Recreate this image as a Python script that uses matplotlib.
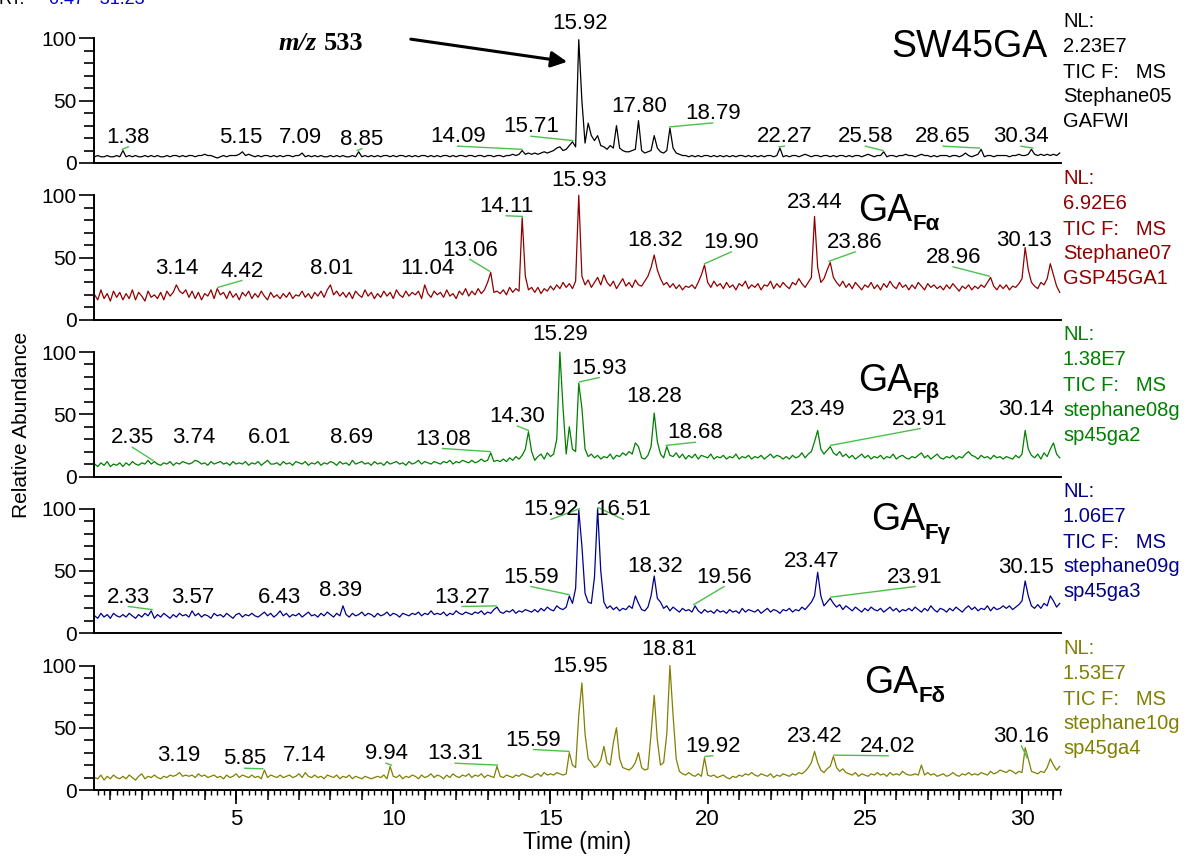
import matplotlib
matplotlib.use("Agg")
import matplotlib.pyplot as plt
from matplotlib.ticker import MultipleLocator
import numpy as np

plt.rcParams['font.family'] = ['Liberation Sans', 'DejaVu Sans']

W, H = 1190, 861

# time grid of the sampled traces (min)
rt_grid = np.linspace(0.5, 31.2, 308)

# relative abundance, one row per minute
sw45ga = [
    5, 6, 5, 5, 6, 5, 5, 6, 5, 10,
    5, 6, 5, 6, 5, 5, 6, 5, 6, 5,
    6, 5, 5, 6, 5, 6, 6, 5, 6, 5,
    6, 6, 5, 6, 6, 7, 6, 6, 5, 4,
    5, 6, 5, 6, 6, 6, 7, 9, 6, 7,
    6, 5, 6, 5, 6, 6, 5, 6, 5, 6,
    5, 6, 6, 5, 6, 6, 8, 5, 6, 5,
    6, 5, 6, 5, 5, 6, 5, 6, 5, 6,
    5, 5, 6, 5, 9, 5, 6, 5, 6, 5,
    6, 5, 6, 6, 5, 6, 5, 6, 6, 5,
    6, 5, 6, 5, 6, 6, 5, 6, 5, 6,
    5, 6, 6, 5, 6, 5, 6, 6, 5, 6,
    6, 5, 6, 6, 5, 6, 6, 5, 6, 6,
    5, 6, 6, 7, 6, 7, 10, 7, 8, 7,
    8, 7, 8, 9, 8, 9, 10, 12, 13, 10,
    11, 14, 17, 13, 99, 50, 16, 32, 22, 18,
    22, 14, 13, 11, 14, 12, 30, 12, 10, 9,
    9, 10, 11, 34, 10, 8, 9, 10, 22, 12,
    9, 8, 10, 28, 12, 8, 7, 6, 6, 5,
    6, 5, 6, 5, 6, 6, 5, 6, 5, 6,
    5, 6, 5, 6, 5, 6, 6, 5, 6, 5,
    6, 5, 6, 5, 6, 6, 5, 6, 12, 5,
    6, 5, 6, 6, 5, 6, 7, 6, 5, 6,
    6, 5, 6, 6, 5, 6, 5, 6, 6, 5,
    6, 5, 6, 6, 5, 6, 7, 6, 5, 6,
    6, 9, 5, 6, 6, 5, 6, 6, 7, 6,
    6, 5, 6, 7, 6, 6, 5, 6, 5, 6,
    6, 6, 5, 6, 6, 5, 6, 8, 6, 5,
    6, 7, 11, 5, 6, 6, 5, 6, 6, 6,
    6, 5, 6, 6, 7, 6, 6, 7, 11, 7,
    6, 7, 6, 7, 6, 7, 6, 8]

ga_f_alpha = [
    20, 16, 24, 17, 21, 15, 23, 18, 22, 16,
    21, 17, 24, 16, 22, 19, 15, 23, 18, 20,
    17, 22, 16, 23, 19, 22, 28, 23, 21, 24,
    18, 23, 17, 22, 16, 21, 19, 24, 17, 25,
    20, 22, 17, 23, 18, 21, 16, 22, 19, 23,
    17, 21, 18, 23, 19, 16, 22, 18, 20, 17,
    21, 18, 22, 17, 20, 19, 23, 18, 21, 17,
    22, 19, 23, 18, 24, 28, 20, 23, 19, 22,
    18, 22, 17, 23, 20, 18, 24, 19, 22, 17,
    21, 18, 23, 19, 22, 17, 24, 20, 18, 23,
    19, 22, 20, 23, 17, 28, 21, 18, 23, 20,
    22, 18, 24, 19, 21, 17, 23, 20, 25, 19,
    23, 20, 25, 21, 24, 30, 38, 22, 23, 21,
    24, 20, 26, 22, 25, 23, 82, 35, 24, 26,
    22, 26, 21, 25, 23, 27, 24, 28, 25, 30,
    26, 29, 25, 31, 100, 35, 28, 32, 26, 30,
    34, 28, 36, 30, 27, 31, 25, 29, 33, 27,
    30, 26, 32, 28, 27, 31, 35, 42, 52, 40,
    33, 28, 30, 26, 29, 25, 28, 24, 27, 26,
    28, 25, 30, 36, 44, 30, 26, 31, 27, 29,
    25, 30, 26, 28, 24, 29, 27, 31, 25, 28,
    26, 29, 24, 28, 27, 31, 25, 29, 26, 30,
    27, 25, 30, 28, 33, 29, 26, 30, 34, 83,
    42, 30, 33, 40, 46, 34, 30, 27, 31, 26,
    29, 25, 30, 27, 24, 28, 26, 30, 25, 28,
    24, 29, 26, 31, 27, 25, 30, 26, 28, 24,
    28, 25, 30, 27, 24, 29, 26, 28, 25, 27,
    24, 28, 25, 29, 26, 23, 27, 25, 28, 24,
    27, 25, 28, 26, 30, 34, 27, 24, 28, 25,
    28, 24, 27, 26, 29, 33, 58, 40, 30, 27,
    25, 30, 28, 33, 45, 36, 27, 22]

ga_f_beta = [
    10, 8, 11, 9, 12, 8, 10, 9, 11, 8,
    11, 9, 12, 10, 9, 11, 10, 13, 10, 12,
    10, 9, 11, 10, 12, 9, 11, 10, 12, 11,
    10, 11, 13, 12, 10, 11, 9, 12, 10, 11,
    12, 10, 11, 9, 12, 10, 11, 10, 12, 9,
    11, 10, 12, 9, 11, 13, 10, 10, 11, 9,
    12, 10, 11, 9, 12, 11, 10, 12, 9, 11,
    10, 12, 9, 11, 10, 12, 11, 9, 12, 10,
    11, 9, 13, 10, 11, 12, 10, 11, 9, 12,
    10, 11, 9, 12, 10, 11, 12, 10, 11, 9,
    12, 10, 11, 13, 10, 12, 11, 10, 12, 11,
    10, 12, 11, 13, 10, 12, 11, 13, 12, 11,
    13, 11, 12, 14, 12, 13, 19, 12, 13, 12,
    14, 12, 15, 13, 16, 14, 17, 22, 36, 20,
    13, 16, 18, 14, 19, 16, 18, 30, 100, 55,
    18, 40, 22, 20, 75, 55, 22, 16, 18, 15,
    17, 14, 16, 15, 18, 14, 17, 16, 19, 17,
    20, 18, 27, 24, 15, 14, 17, 24, 51, 28,
    18, 15, 24, 17, 16, 19, 15, 18, 14, 17,
    15, 18, 14, 17, 16, 15, 18, 14, 16, 15,
    17, 14, 16, 15, 18, 14, 16, 15, 17, 14,
    16, 15, 17, 14, 16, 18, 15, 17, 16, 14,
    16, 14, 17, 15, 16, 19, 15, 18, 20, 28,
    37, 22, 18, 21, 24, 19, 17, 20, 16, 18,
    15, 17, 14, 16, 18, 15, 17, 14, 16, 15,
    17, 14, 16, 15, 18, 14, 16, 17, 15, 14,
    16, 15, 17, 19, 15, 17, 14, 16, 18, 15,
    14, 16, 15, 17, 14, 16, 15, 18, 20, 17,
    16, 14, 17, 15, 16, 14, 17, 15, 16, 14,
    16, 15, 14, 17, 15, 18, 37, 22, 17, 15,
    18, 14, 19, 16, 22, 27, 18, 15]

ga_f_gamma = [
    14, 12, 16, 13, 15, 12, 16, 14, 13, 15,
    13, 16, 14, 12, 15, 13, 16, 14, 18, 12,
    15, 13, 16, 14, 12, 15, 13, 16, 14, 15,
    13, 18, 14, 16, 13, 15, 14, 12, 16, 14,
    15, 13, 16, 14, 12, 15, 16, 13, 15, 14,
    16, 14, 13, 15, 17, 14, 16, 13, 15, 18,
    14, 16, 13, 15, 14, 16, 13, 15, 17, 14,
    15, 13, 16, 14, 17, 15, 13, 16, 14, 22,
    15, 13, 16, 14, 15, 17, 14, 16, 15, 13,
    16, 14, 15, 17, 14, 16, 15, 13, 16, 15,
    14, 16, 15, 17, 14, 16, 15, 18, 15, 16,
    15, 17, 14, 16, 15, 18, 16, 15, 17, 16,
    15, 17, 16, 18, 15, 17, 16, 19, 21, 17,
    16, 18, 17, 19, 16, 18, 17, 19, 18, 17,
    19, 17, 20, 18, 21, 19, 18, 22, 20, 19,
    21, 30, 24, 36, 99, 70, 32, 25, 24, 45,
    100, 50, 25, 20, 22, 19, 21, 18, 20, 19,
    22, 20, 30, 24, 19, 18, 21, 30, 46, 28,
    25, 20, 22, 18, 21, 19, 17, 20, 18, 19,
    17, 22, 18, 16, 19, 17, 18, 16, 19, 17,
    18, 16, 19, 17, 18, 16, 20, 17, 19, 18,
    17, 19, 16, 18, 20, 17, 19, 18, 16, 19,
    18, 20, 17, 19, 18, 21, 19, 22, 25, 30,
    49, 30, 22, 25, 28, 24, 21, 23, 19, 22,
    20, 18, 21, 19, 17, 20, 18, 21, 19, 18,
    20, 17, 19, 21, 18, 20, 17, 19, 18, 20,
    18, 21, 19, 17, 20, 18, 22, 19, 17, 20,
    19, 17, 20, 18, 21, 19, 17, 20, 22, 19,
    21, 18, 20, 19, 22, 18, 21, 19, 20, 22,
    20, 22, 19, 21, 23, 26, 42, 30, 22, 20,
    23, 20, 24, 22, 30, 26, 21, 24]

ga_f_delta = [
    10, 9, 12, 8, 11, 9, 12, 10, 9, 11,
    9, 12, 10, 8, 11, 13, 9, 11, 10, 12,
    10, 9, 11, 10, 12, 11, 12, 14, 11, 12,
    11, 12, 10, 13, 11, 12, 10, 11, 12, 10,
    11, 9, 12, 10, 11, 13, 10, 12, 11, 10,
    12, 10, 11, 9, 16, 10, 12, 11, 10, 12,
    10, 11, 12, 10, 11, 13, 10, 14, 11, 10,
    12, 10, 11, 9, 12, 11, 10, 12, 9, 11,
    10, 12, 9, 11, 10, 9, 11, 10, 9, 10,
    11, 10, 12, 9, 19, 11, 10, 12, 9, 11,
    10, 12, 11, 9, 12, 10, 11, 13, 10, 12,
    11, 9, 12, 10, 13, 11, 10, 12, 11, 13,
    10, 12, 11, 13, 10, 12, 11, 10, 19, 11,
    10, 12, 11, 10, 12, 11, 13, 12, 11, 10,
    12, 13, 11, 14, 12, 13, 12, 14, 13, 12,
    13, 30, 20, 18, 60, 86, 45, 25, 22, 18,
    20, 24, 35, 22, 20, 38, 50, 25, 18, 17,
    16, 18, 22, 30, 18, 16, 17, 45, 76, 40,
    20, 22, 45, 100, 60, 25, 15, 13, 12, 14,
    12, 11, 13, 11, 26, 12, 11, 12, 10, 11,
    12, 10, 9, 11, 10, 12, 11, 13, 12, 14,
    12, 11, 13, 12, 11, 13, 10, 12, 11, 13,
    12, 11, 13, 12, 14, 13, 15, 18, 22, 31,
    22, 16, 14, 17, 19, 27, 18, 15, 17, 14,
    13, 12, 14, 11, 13, 12, 11, 13, 12, 14,
    12, 13, 11, 14, 12, 13, 12, 15, 13, 12,
    12, 13, 12, 20, 12, 14, 12, 13, 11, 12,
    13, 11, 12, 14, 12, 11, 13, 12, 14, 12,
    13, 12, 14, 13, 12, 15, 13, 14, 16, 15,
    14, 16, 15, 13, 15, 14, 34, 25, 15, 14,
    13, 15, 14, 18, 25, 20, 16, 19]

traces = [sw45ga, ga_f_alpha, ga_f_beta, ga_f_gamma, ga_f_delta]
colors = ['black', '#900000', '#008000', '#00008B', '#808000']

# labelled peak retention times
peaks_sw = [1.38, 5.15, 7.09, 8.85, 14.09, 15.71, 15.92, 17.80, 18.79, 22.27, 25.58, 28.65, 30.34]
peaks_alpha = [3.14, 4.42, 8.01, 11.04, 13.06, 14.11, 15.93, 18.32, 19.90, 23.44, 23.86, 28.96, 30.13]
peaks_beta = [2.35, 3.74, 6.01, 8.69, 13.08, 14.30, 15.29, 15.93, 18.28, 18.68, 23.49, 23.91, 30.14]
peaks_gamma = [2.33, 3.57, 6.43, 8.39, 13.27, 15.59, 15.92, 16.51, 18.32, 19.56, 23.47, 23.91, 30.15]
peaks_delta = [3.19, 5.85, 7.14, 9.94, 13.31, 15.59, 15.95, 18.81, 19.92, 23.42, 24.02, 30.16]
peak_lists = [peaks_sw, peaks_alpha, peaks_beta, peaks_gamma, peaks_delta]

# where the peak labels sit (time, abundance of label centre)
lab_sw = [(1.57, 20.5), (5.15, 20.5), (7.06, 20.5), (9.0, 19), (12.05, 21), (14.38, 29),
          (15.94, 112), (17.82, 45.6), (20.16, 39.7), (22.44, 21), (25.02, 21), (27.49, 21), (29.97, 21)]
lab_alpha = [(3.12, 41), (5.18, 39), (8.03, 41), (11.08, 41), (12.44, 56), (13.59, 91), (15.91, 112),
             (18.33, 64), (20.75, 62), (23.41, 94), (24.69, 62), (27.81, 50), (30.06, 64)]
lab_beta = [(1.7, 31), (3.65, 31), (6.06, 31), (8.66, 31), (11.57, 30), (13.95, 48), (15.3, 114),
            (16.55, 87), (18.30, 64), (19.61, 35), (23.51, 54), (26.76, 46), (30.13, 54)]
lab_gamma = [(1.57, 29), (3.63, 29), (6.37, 29), (8.31, 34), (12.19, 29), (14.38, 45), (15.02, 99),
             (17.31, 99), (18.33, 54), (20.52, 45), (23.32, 58), (26.6, 45), (30.13, 53)]
lab_delta = [(3.19, 28), (5.27, 25), (7.19, 28), (9.77, 29), (11.97, 29), (14.46, 40), (15.94, 99),
             (18.78, 113), (20.16, 35), (23.42, 43), (25.74, 35), (29.98, 43)]
label_lists = [lab_sw, lab_alpha, lab_beta, lab_gamma, lab_delta]

nl_values = ['2.23E7', '6.92E6', '1.38E7', '1.06E7', '1.53E7']
file_names = [('Stephane05', 'GAFWI'), ('Stephane07', 'GSP45GA1'), ('stephane08g', 'sp45ga2'),
              ('stephane09g', 'sp45ga3'), ('stephane10g', 'sp45ga4')]
subscripts = [None, 'F\u03b1', 'F\u03b2', 'F\u03b3', 'F\u03b4']


def px(x, y):
    return x / W, 1 - y / H


fig = plt.figure(figsize=(W / 100, H / 100), dpi=100)

zero_px = [163, 319.75, 476.5, 633.25, 790]
pan_h = 124.5
ax_left, ax_right = 94, 1061
leader_col = '#4cc04c'

axes = []
for i, vals in enumerate(traces):
    ax = fig.add_axes([ax_left / W, 1 - zero_px[i] / H, (ax_right - ax_left) / W, pan_h / H])
    axes.append(ax)
    y = np.array(vals, dtype=float)
    ax.plot(rt_grid, y, color=colors[i], lw=0.9, clip_on=False)
    ax.set_xlim(0.48, 31.24)
    ax.set_ylim(0, 100)
    for s in ['top', 'right']:
        ax.spines[s].set_visible(False)
    for s in ['left', 'bottom']:
        ax.spines[s].set_linewidth(1.4)
    ax.set_yticks([0, 50, 100])
    ax.yaxis.set_minor_locator(MultipleLocator(10))
    ax.tick_params(axis='y', which='major', length=11, width=1.2, labelsize=15, pad=1.5)
    ax.tick_params(axis='y', which='minor', length=7.5, width=1.2)

    # peak labels with leader lines where the label had to move
    for rt, (lx, ly) in zip(peak_lists[i], label_lists[i]):
        ax.text(lx, ly, f"{rt:.2f}", ha='center', va='center', fontsize=16, color='black')
        if abs(lx - rt) > 0.15:
            near = np.abs(rt_grid - rt) <= 0.06
            top = y[near].max() + 1
            ax.plot([lx, rt], [ly - 7.5, top], color=leader_col, lw=1.0, clip_on=False)

    # instrument info on the right
    tx = 1.002
    ax.text(tx, 1.137, 'NL:', transform=ax.transAxes, fontsize=14.5, color=colors[i], va='center')
    ax.text(tx, 0.936, nl_values[i], transform=ax.transAxes, fontsize=14.5, color=colors[i], va='center')
    ax.text(tx, 0.727, 'TIC F:   MS', transform=ax.transAxes, fontsize=14.5, color=colors[i], va='center')
    ax.text(tx, 0.534, file_names[i][0], transform=ax.transAxes, fontsize=14.5, color=colors[i], va='center')
    ax.text(tx, 0.333, file_names[i][1], transform=ax.transAxes, fontsize=14.5, color=colors[i], va='center')

    if i < 4:
        ax.tick_params(axis='x', which='both', length=0, labelbottom=False)

# bottom time axis: 5 min labelled, 1 min medium, 0.2 min small ticks
axb = axes[-1]
axb.set_xticks([5, 10, 15, 20, 25, 30])
axb.xaxis.set_minor_locator(MultipleLocator(0.2))
axb.tick_params(axis='x', which='major', length=10, width=1.2, labelsize=16, pad=4)
axb.tick_params(axis='x', which='minor', length=3.6, width=1.0)
sec = axb.secondary_xaxis('bottom')
sec.set_xticks(np.arange(1, 32))
sec.tick_params(axis='x', length=7, width=1.1, labelbottom=False)
sec.spines['bottom'].set_visible(False)

# panel names
fig.text(*px(1048, 47), 'SW45GA', fontsize=27, ha='right', va='center')
ga_pos = [None, (912, 211, 224), (912, 381, 392), (925, 520, 533), (918, 683, 696)]
for i in range(1, 5):
    gx, gy, sy = ga_pos[i]
    fig.text(*px(gx, gy), 'GA', fontsize=27, ha='right', va='center')
    fig.text(*px(gx, sy), subscripts[i], fontsize=16, fontweight='bold', ha='left', va='center')

# m/z annotation
axes[0].annotate('', xy=(15.62, 81), xytext=(10.47, 99.8),
                 arrowprops=dict(arrowstyle='-|>', lw=2.2, color='black', mutation_scale=24),
                 annotation_clip=False)
fig.text(*px(317, 43), 'm/z', fontsize=19, family='Liberation Serif', fontweight='bold',
         fontstyle='italic', ha='right', va='center')
fig.text(*px(324, 43), '533', fontsize=19, family='Liberation Serif', fontweight='bold',
         ha='left', va='center')

# range text cut at the top edge
fig.text(*px(-2, 4.5), 'RT:', fontsize=13, va='baseline', ha='left')
fig.text(*px(49, 4.5), '0.47 - 31.23', fontsize=13, va='baseline', ha='left', color='#0000CC')

fig.text(*px(22, 425), 'Relative Abundance', fontsize=15, rotation=90, ha='center', va='center')
fig.text(*px(577, 842), 'Time (min)', fontsize=16.5, ha='center', va='center')

fig.savefig('out.png', dpi=100)
